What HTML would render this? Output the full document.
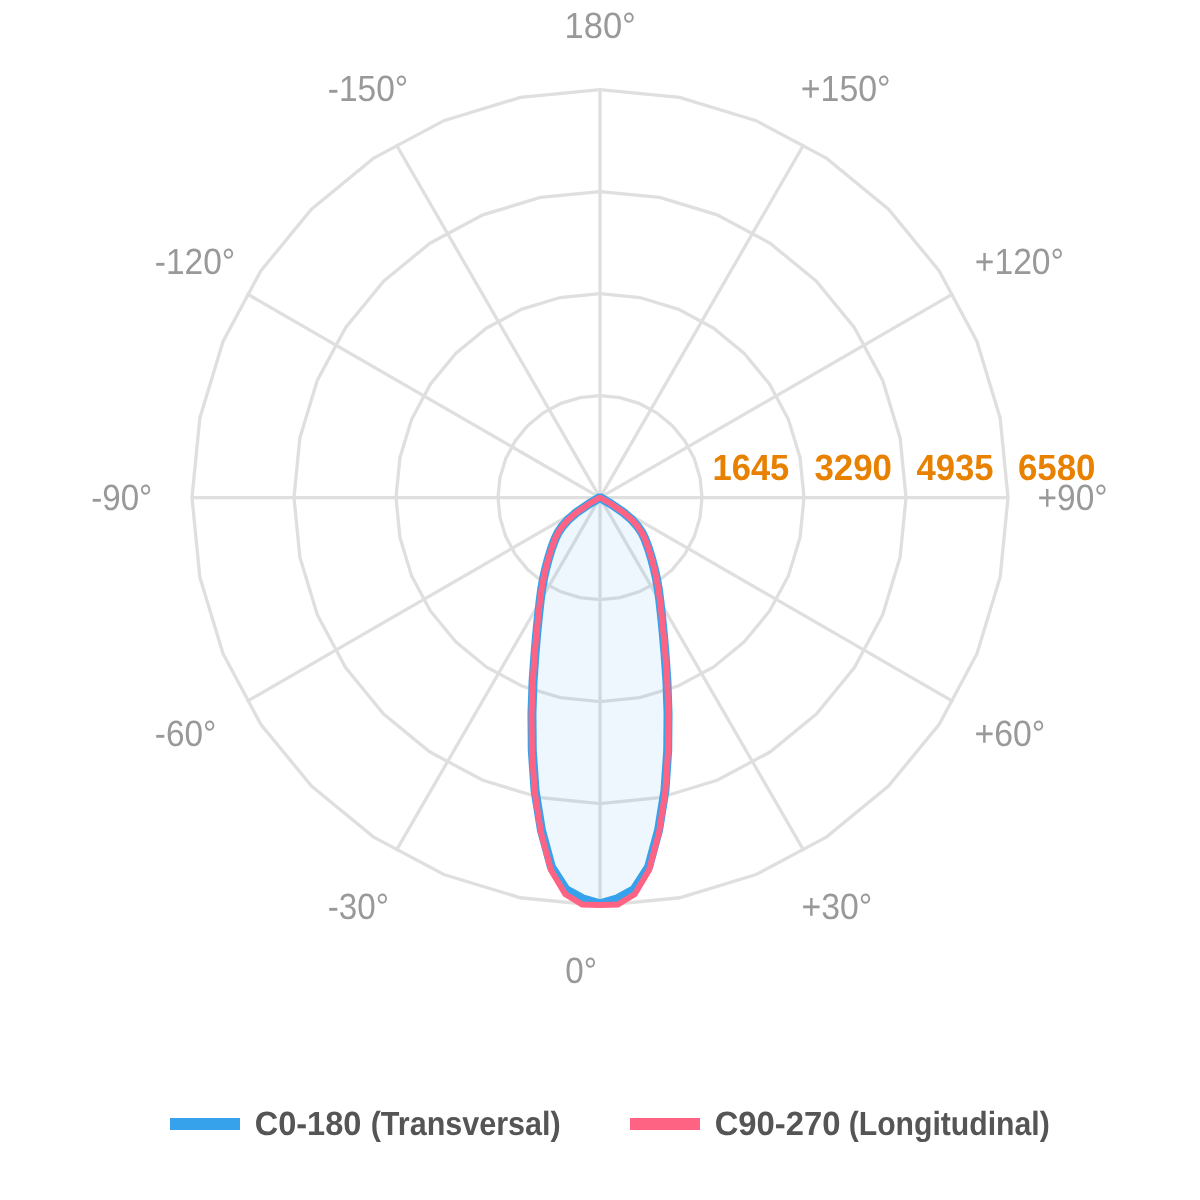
<!DOCTYPE html>
<html><head><meta charset="utf-8"><title>Polar</title>
<style>
html,body{margin:0;padding:0;background:#fff;}
body{width:1200px;height:1200px;overflow:hidden;font-family:"Liberation Sans",sans-serif;}
svg{display:block;}
.tx{will-change:opacity;}
text{font-family:"Liberation Sans",sans-serif;text-rendering:geometricPrecision;}
.al{font-size:36.5px;fill:#999;}
.rl{font-size:36.5px;font-weight:bold;fill:#e88000;}
.lg{font-size:33.6px;font-weight:bold;fill:#555;}
</style></head><body>
<svg width="1200" height="1200" viewBox="0 0 1200 1200">
<rect width="1200" height="1200" fill="#fff"/>

<g fill="none" stroke="#dfdfdf" stroke-width="3.3" stroke-linejoin="miter">
<polygon points="600.00,599.60 619.90,597.64 639.03,591.84 656.67,582.41 672.12,569.72 684.81,554.27 694.24,536.63 700.04,517.50 702.00,497.60 700.04,477.70 694.24,458.57 684.81,440.93 672.12,425.48 656.67,412.79 639.03,403.36 619.90,397.56 600.00,395.60 580.10,397.56 560.97,403.36 543.33,412.79 527.88,425.48 515.19,440.93 505.76,458.57 499.96,477.70 498.00,497.60 499.96,517.50 505.76,536.63 515.19,554.27 527.88,569.72 543.33,582.41 560.97,591.84 580.10,597.64"/>
<polygon points="600.00,701.60 639.80,697.68 678.07,686.07 713.34,667.22 744.25,641.85 769.62,610.94 788.47,575.67 800.08,537.40 804.00,497.60 800.08,457.80 788.47,419.53 769.62,384.26 744.25,353.35 713.34,327.98 678.07,309.13 639.80,297.52 600.00,293.60 560.20,297.52 521.93,309.13 486.66,327.98 455.75,353.35 430.38,384.26 411.53,419.53 399.92,457.80 396.00,497.60 399.92,537.40 411.53,575.67 430.38,610.94 455.75,641.85 486.66,667.22 521.93,686.07 560.20,697.68"/>
<polygon points="600.00,803.60 659.70,797.72 717.10,780.31 770.00,752.03 816.37,713.97 854.43,667.60 882.71,614.70 900.12,557.30 906.00,497.60 900.12,437.90 882.71,380.50 854.43,327.60 816.37,281.23 770.00,243.17 717.10,214.89 659.70,197.48 600.00,191.60 540.30,197.48 482.90,214.89 430.00,243.17 383.63,281.23 345.57,327.60 317.29,380.50 299.88,437.90 294.00,497.60 299.88,557.30 317.29,614.70 345.57,667.60 383.63,713.97 430.00,752.03 482.90,780.31 540.30,797.72"/>
<polygon points="600.00,905.60 679.60,897.76 756.13,874.54 826.67,836.84 888.50,786.10 939.24,724.27 976.94,653.73 1000.16,577.20 1008.00,497.60 1000.16,418.00 976.94,341.47 939.24,270.93 888.50,209.10 826.67,158.36 756.13,120.66 679.60,97.44 600.00,89.60 520.40,97.44 443.87,120.66 373.33,158.36 311.50,209.10 260.76,270.93 223.06,341.47 199.84,418.00 192.00,497.60 199.84,577.20 223.06,653.73 260.76,724.27 311.50,786.10 373.33,836.84 443.87,874.54 520.40,897.76"/>
</g>
<g stroke="#dfdfdf" stroke-width="3.3">
<line x1="600.00" y1="497.60" x2="600.00" y2="905.60"/>
<line x1="600.00" y1="497.60" x2="804.00" y2="850.94"/>
<line x1="600.00" y1="497.60" x2="953.34" y2="701.60"/>
<line x1="600.00" y1="497.60" x2="1008.00" y2="497.60"/>
<line x1="600.00" y1="497.60" x2="953.34" y2="293.60"/>
<line x1="600.00" y1="497.60" x2="804.00" y2="144.26"/>
<line x1="600.00" y1="497.60" x2="600.00" y2="89.60"/>
<line x1="600.00" y1="497.60" x2="396.00" y2="144.26"/>
<line x1="600.00" y1="497.60" x2="246.66" y2="293.60"/>
<line x1="600.00" y1="497.60" x2="192.00" y2="497.60"/>
<line x1="600.00" y1="497.60" x2="246.66" y2="701.60"/>
<line x1="600.00" y1="497.60" x2="396.00" y2="850.94"/>
</g>
<path d="M600.00,903.80 L617.52,898.72 L634.28,889.30 L648.63,866.91 L658.62,829.97 L664.96,790.54 L667.73,750.28 L668.05,713.33 L666.93,681.40 L665.09,654.65 L663.24,633.13 L661.50,615.65 L659.90,601.25 L658.35,589.09 L656.38,578.02 L654.12,568.03 L651.74,559.17 L649.39,551.39 L647.09,544.59 L644.75,538.51 L641.83,532.60 L637.76,526.48 L632.03,519.93 L623.61,512.54 L610.39,503.50 L600.00,497.50 L600.00,497.50 L600.00,497.50 L600.00,497.50 L600.00,497.50 L600.00,497.50 L600.00,497.50 L600.00,497.50 L600.00,497.50 L600.00,497.50 L600.00,497.50 L600.00,497.50 L600.00,497.50 L600.00,497.50 L600.00,497.50 L600.00,497.50 L600.00,497.50 L600.00,497.50 L600.00,497.50 L600.00,497.50 L600.00,497.50 L600.00,497.50 L600.00,497.50 L600.00,497.50 L600.00,497.50 L600.00,497.50 L600.00,497.50 L600.00,497.50 L600.00,497.50 L600.00,497.50 L600.00,497.50 L600.00,497.50 L600.00,497.50 L600.00,497.50 L600.00,497.50 L600.00,497.50 L600.00,497.50 L600.00,497.50 L600.00,497.50 L600.00,497.50 L600.00,497.50 L600.00,497.50 L600.00,497.50 L600.00,497.50 L600.00,497.50 L600.00,497.50 L600.00,497.50 L600.00,497.50 L600.00,497.50 L600.00,497.50 L600.00,497.50 L600.00,497.50 L600.00,497.50 L600.00,497.50 L600.00,497.50 L600.00,497.50 L600.00,497.50 L600.00,497.50 L600.00,497.50 L600.00,497.50 L600.00,497.50 L600.00,497.50 L600.00,497.50 L600.00,497.50 L600.00,497.50 L600.00,497.50 L600.00,497.50 L600.00,497.50 L600.00,497.50 L600.00,497.50 L600.00,497.50 L600.00,497.50 L600.00,497.50 L600.00,497.50 L600.00,497.50 L600.00,497.50 L600.00,497.50 L600.00,497.50 L600.00,497.50 L600.00,497.50 L600.00,497.50 L600.00,497.50 L600.00,497.50 L600.00,497.50 L600.00,497.50 L600.00,497.50 L600.00,497.50 L600.00,497.50 L600.00,497.50 L600.00,497.50 L600.00,497.50 L600.00,497.50 L600.00,497.50 L600.00,497.50 L600.00,497.50 L589.61,503.50 L576.39,512.54 L567.97,519.93 L562.24,526.48 L558.17,532.60 L555.25,538.51 L552.91,544.59 L550.61,551.39 L548.26,559.17 L545.88,568.03 L543.62,578.02 L541.65,589.09 L540.10,601.25 L538.50,615.65 L536.76,633.13 L534.91,654.65 L533.07,681.40 L531.95,713.33 L532.27,750.28 L535.04,790.54 L541.38,829.97 L551.37,866.91 L565.72,889.30 L582.48,898.72 L600.00,903.80Z" fill="rgba(54,162,235,0.09)" stroke="none"/>
<path d="M600.00,903.80 L617.52,898.72 L634.28,889.30 L648.63,866.91 L658.62,829.97 L664.96,790.54 L667.73,750.28 L668.05,713.33 L666.93,681.40 L665.09,654.65 L663.24,633.13 L661.50,615.65 L659.90,601.25 L658.35,589.09 L656.38,578.02 L654.12,568.03 L651.74,559.17 L649.39,551.39 L647.09,544.59 L644.75,538.51 L641.83,532.60 L637.76,526.48 L632.03,519.93 L623.61,512.54 L610.39,503.50 L600.00,497.50 L600.00,497.50 L600.00,497.50 L600.00,497.50 L600.00,497.50 L600.00,497.50 L600.00,497.50 L600.00,497.50 L600.00,497.50 L600.00,497.50 L600.00,497.50 L600.00,497.50 L600.00,497.50 L600.00,497.50 L600.00,497.50 L600.00,497.50 L600.00,497.50 L600.00,497.50 L600.00,497.50 L600.00,497.50 L600.00,497.50 L600.00,497.50 L600.00,497.50 L600.00,497.50 L600.00,497.50 L600.00,497.50 L600.00,497.50 L600.00,497.50 L600.00,497.50 L600.00,497.50 L600.00,497.50 L600.00,497.50 L600.00,497.50 L600.00,497.50 L600.00,497.50 L600.00,497.50 L600.00,497.50 L600.00,497.50 L600.00,497.50 L600.00,497.50 L600.00,497.50 L600.00,497.50 L600.00,497.50 L600.00,497.50 L600.00,497.50 L600.00,497.50 L600.00,497.50 L600.00,497.50 L600.00,497.50 L600.00,497.50 L600.00,497.50 L600.00,497.50 L600.00,497.50 L600.00,497.50 L600.00,497.50 L600.00,497.50 L600.00,497.50 L600.00,497.50 L600.00,497.50 L600.00,497.50 L600.00,497.50 L600.00,497.50 L600.00,497.50 L600.00,497.50 L600.00,497.50 L600.00,497.50 L600.00,497.50 L600.00,497.50 L600.00,497.50 L600.00,497.50 L600.00,497.50 L600.00,497.50 L600.00,497.50 L600.00,497.50 L600.00,497.50 L600.00,497.50 L600.00,497.50 L600.00,497.50 L600.00,497.50 L600.00,497.50 L600.00,497.50 L600.00,497.50 L600.00,497.50 L600.00,497.50 L600.00,497.50 L600.00,497.50 L600.00,497.50 L600.00,497.50 L600.00,497.50 L600.00,497.50 L600.00,497.50 L600.00,497.50 L600.00,497.50 L600.00,497.50 L600.00,497.50 L589.61,503.50 L576.39,512.54 L567.97,519.93 L562.24,526.48 L558.17,532.60 L555.25,538.51 L552.91,544.59 L550.61,551.39 L548.26,559.17 L545.88,568.03 L543.62,578.02 L541.65,589.09 L540.10,601.25 L538.50,615.65 L536.76,633.13 L534.91,654.65 L533.07,681.40 L531.95,713.33 L532.27,750.28 L535.04,790.54 L541.38,829.97 L551.37,866.91 L565.72,889.30 L582.48,898.72 L600.00,903.80" fill="none" stroke="#36a2eb" stroke-width="9" stroke-linejoin="miter" stroke-miterlimit="1.12"/>
<path d="M600.00,905.00 L617.77,904.61 L634.71,894.18 L649.04,869.99 L659.06,832.43 L665.28,791.95 L668.04,751.44 L668.41,714.47 L667.31,682.43 L665.44,655.48 L663.52,633.72 L661.74,616.09 L660.10,601.60 L658.46,589.26 L656.38,578.02 L654.12,568.03 L651.74,559.17 L649.39,551.39 L647.09,544.59 L644.75,538.51 L641.83,532.60 L637.76,526.48 L632.03,519.93 L623.61,512.54 L610.39,503.50 L600.00,497.50 L600.00,497.50 L600.00,497.50 L600.00,497.50 L600.00,497.50 L600.00,497.50 L600.00,497.50 L600.00,497.50 L600.00,497.50 L600.00,497.50 L600.00,497.50 L600.00,497.50 L600.00,497.50 L600.00,497.50 L600.00,497.50 L600.00,497.50 L600.00,497.50 L600.00,497.50 L600.00,497.50 L600.00,497.50 L600.00,497.50 L600.00,497.50 L600.00,497.50 L600.00,497.50 L600.00,497.50 L600.00,497.50 L600.00,497.50 L600.00,497.50 L600.00,497.50 L600.00,497.50 L600.00,497.50 L600.00,497.50 L600.00,497.50 L600.00,497.50 L600.00,497.50 L600.00,497.50 L600.00,497.50 L600.00,497.50 L600.00,497.50 L600.00,497.50 L600.00,497.50 L600.00,497.50 L600.00,497.50 L600.00,497.50 L600.00,497.50 L600.00,497.50 L600.00,497.50 L600.00,497.50 L600.00,497.50 L600.00,497.50 L600.00,497.50 L600.00,497.50 L600.00,497.50 L600.00,497.50 L600.00,497.50 L600.00,497.50 L600.00,497.50 L600.00,497.50 L600.00,497.50 L600.00,497.50 L600.00,497.50 L600.00,497.50 L600.00,497.50 L600.00,497.50 L600.00,497.50 L600.00,497.50 L600.00,497.50 L600.00,497.50 L600.00,497.50 L600.00,497.50 L600.00,497.50 L600.00,497.50 L600.00,497.50 L600.00,497.50 L600.00,497.50 L600.00,497.50 L600.00,497.50 L600.00,497.50 L600.00,497.50 L600.00,497.50 L600.00,497.50 L600.00,497.50 L600.00,497.50 L600.00,497.50 L600.00,497.50 L600.00,497.50 L600.00,497.50 L600.00,497.50 L600.00,497.50 L600.00,497.50 L600.00,497.50 L600.00,497.50 L600.00,497.50 L600.00,497.50 L600.00,497.50 L589.61,503.50 L576.39,512.54 L567.97,519.93 L562.24,526.48 L558.17,532.60 L555.25,538.51 L552.91,544.59 L550.61,551.39 L548.26,559.17 L545.88,568.03 L543.62,578.02 L541.54,589.26 L539.90,601.60 L538.26,616.09 L536.48,633.72 L534.56,655.48 L532.69,682.43 L531.59,714.47 L531.96,751.44 L534.72,791.95 L540.94,832.43 L550.96,869.99 L565.29,894.18 L582.23,904.61 L600.00,905.00" fill="none" stroke="#ff6384" stroke-width="6" stroke-linejoin="miter" stroke-miterlimit="1.12"/>
<g class="tx">
<text class="al" x="564.50" y="37.80" textLength="71.42" lengthAdjust="spacingAndGlyphs">180°</text>
<text class="al" x="800.78" y="100.70" textLength="89.83" lengthAdjust="spacingAndGlyphs">+150°</text>
<text class="al" x="974.80" y="273.70" textLength="89.18" lengthAdjust="spacingAndGlyphs">+120°</text>
<text class="al" x="1037.50" y="510.00" textLength="70.10" lengthAdjust="spacingAndGlyphs">+90°</text>
<text class="al" x="974.42" y="746.20" textLength="70.85" lengthAdjust="spacingAndGlyphs">+60°</text>
<text class="al" x="801.42" y="919.20" textLength="70.85" lengthAdjust="spacingAndGlyphs">+30°</text>
<text class="al" x="565.30" y="983.20" textLength="31.73" lengthAdjust="spacingAndGlyphs">0°</text>
<text class="al" x="327.80" y="919.20" textLength="61.19" lengthAdjust="spacingAndGlyphs">-30°</text>
<text class="al" x="154.80" y="746.20" textLength="61.48" lengthAdjust="spacingAndGlyphs">-60°</text>
<text class="al" x="91.30" y="510.00" textLength="61.04" lengthAdjust="spacingAndGlyphs">-90°</text>
<text class="al" x="154.80" y="273.70" textLength="80.34" lengthAdjust="spacingAndGlyphs">-120°</text>
<text class="al" x="327.80" y="100.70" textLength="80.34" lengthAdjust="spacingAndGlyphs">-150°</text>
<text class="rl" x="712.50" y="479.80" textLength="76.80" lengthAdjust="spacingAndGlyphs">1645</text>
<text class="rl" x="814.42" y="479.80" textLength="77.55" lengthAdjust="spacingAndGlyphs">3290</text>
<text class="rl" x="916.42" y="479.80" textLength="77.17" lengthAdjust="spacingAndGlyphs">4935</text>
<text class="rl" x="1017.90" y="479.80" textLength="77.53" lengthAdjust="spacingAndGlyphs">6580</text>
<text class="lg" x="254.68" y="1135.40" textLength="106.67" lengthAdjust="spacingAndGlyphs">C0-180</text>
<text class="lg" x="370.68" y="1135.40" textLength="190.02" lengthAdjust="spacingAndGlyphs">(Transversal)</text>
<text class="lg" x="714.68" y="1135.40" textLength="125.82" lengthAdjust="spacingAndGlyphs">C90-270</text>
<text class="lg" x="848.68" y="1135.40" textLength="201.04" lengthAdjust="spacingAndGlyphs">(Longitudinal)</text>
</g>
<rect x="170" y="1118" width="70" height="12" fill="#36a2eb"/>
<rect x="630" y="1118" width="70" height="12" fill="#ff6384"/>
</svg></body></html>
